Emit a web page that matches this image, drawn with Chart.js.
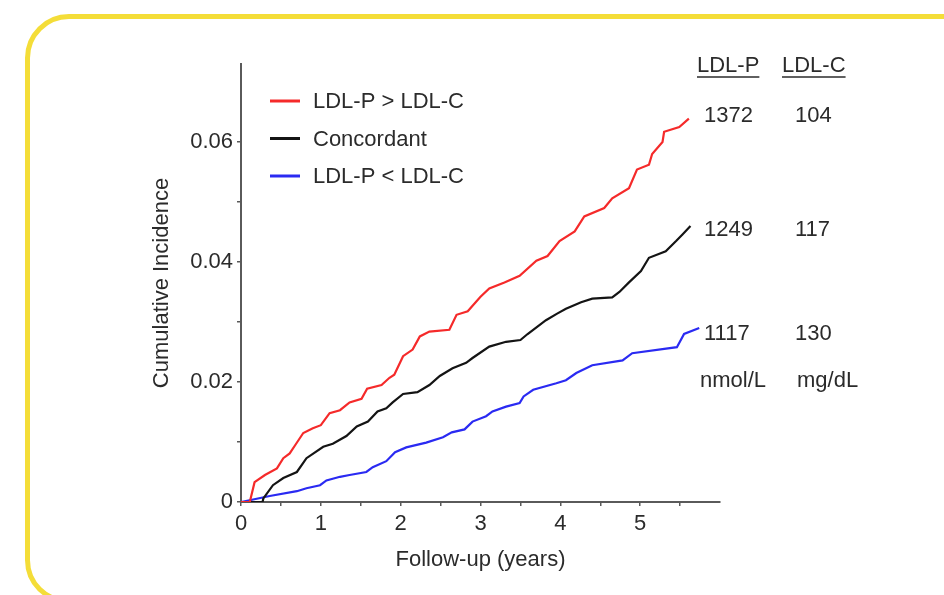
<!DOCTYPE html>
<html>
<head>
<meta charset="utf-8">
<script src="https://cdn.jsdelivr.net/npm/chart.js@4.4.1/dist/chart.umd.min.js"></script>
<style>
  html, body { margin:0; padding:0; background:#ffffff; width:944px; height:595px; overflow:hidden; }
  #frame { position:absolute; left:25px; top:14px; width:970px; height:590px; box-sizing:border-box;
           border:5px solid #F4DD38; border-radius:44px; }
  #c { position:absolute; left:0; top:0; }
</style>
</head>
<body>
<div id="frame"></div>
<canvas id="c" width="944" height="595"></canvas>
<script>
// ---- data ----
const seriesLabels = ['LDL-P > LDL-C', 'Concordant', 'LDL-P < LDL-C'];
const seriesColors = ['#F52A2A', '#141414', '#2A2AF2'];

const redTimes = [0,0.11,0.17,0.3,0.45,0.53,0.61,0.68,0.78,0.9,1.0,1.11,1.24,1.36,1.51,1.58,1.76,1.86,1.92,2.03,2.15,2.24,2.36,2.61,2.7,2.84,2.92,3.0,3.11,3.3,3.49,3.7,3.84,3.99,4.18,4.3,4.55,4.65,4.86,4.96,5.11,5.15,5.28,5.3,5.49,5.61];
const redVals  = [0,0,0.0033,0.0045,0.0056,0.0073,0.0081,0.0095,0.0115,0.0123,0.0128,0.0148,0.0153,0.0166,0.0172,0.0189,0.0195,0.0207,0.0212,0.0243,0.0254,0.0276,0.0284,0.0287,0.0312,0.0318,0.0330,0.0342,0.0356,0.0366,0.0377,0.0402,0.0410,0.0435,0.0451,0.0476,0.0490,0.0506,0.0523,0.0554,0.0562,0.0580,0.0600,0.0617,0.0625,0.0639];

const blackTimes = [0,0.27,0.28,0.4,0.53,0.7,0.82,1.03,1.15,1.32,1.45,1.59,1.71,1.82,1.9,2.03,2.21,2.36,2.49,2.65,2.82,2.9,3.11,3.32,3.5,3.59,3.82,3.96,4.07,4.26,4.4,4.65,4.74,4.86,5.01,5.11,5.32,5.45,5.53,5.63];
const blackVals  = [0,0,0.0006,0.0028,0.0040,0.0050,0.0073,0.0092,0.0097,0.0110,0.0126,0.0134,0.0151,0.0156,0.0166,0.0180,0.0183,0.0195,0.0210,0.0223,0.0232,0.0240,0.0259,0.0267,0.0270,0.0280,0.0303,0.0314,0.0322,0.0333,0.0339,0.0341,0.0350,0.0366,0.0385,0.0407,0.0418,0.0435,0.0446,0.0460];

const blueTimes = [0,0.36,0.7,0.82,0.99,1.07,1.24,1.36,1.57,1.65,1.82,1.93,2.07,2.32,2.53,2.64,2.8,2.9,3.07,3.15,3.32,3.49,3.54,3.66,3.95,4.07,4.2,4.4,4.78,4.9,5.46,5.55,5.74];
const blueVals  = [0,0.0010,0.0018,0.0023,0.0028,0.0036,0.0042,0.0045,0.0050,0.0058,0.0068,0.0083,0.0091,0.0099,0.0108,0.0116,0.0121,0.0134,0.0143,0.0151,0.0159,0.0165,0.0176,0.0187,0.0198,0.0203,0.0215,0.0228,0.0236,0.0248,0.0258,0.0280,0.0290];

const ldlPValues = ['1372', '1249', '1117'];
const ldlCValues = ['104', '117', '130'];
const columnHeaders = ['LDL-P', 'LDL-C'];
const columnUnits = ['nmol/L', 'mg/dL'];

const yMajorLabels = ['0', '0.02', '0.04', '0.06'];
const xMajorLabels = ['0', '1', '2', '3', '4', '5'];
const xTitle = 'Follow-up (years)';
const yTitle = 'Cumulative Incidence';

// ---- build ----
const FONT = "'Liberation Sans', Arial, sans-serif";
const FS = 22;
const TEXT = '#2b2b2b';
const AXIS = '#5a5a5a';

function pts(t, v) { return t.map((x, i) => ({x: x, y: v[i]})); }
const allTimes = [redTimes, blackTimes, blueTimes];
const allVals = [redVals, blackVals, blueVals];

const datasets = seriesLabels.map((lab, i) => ({
  label: lab,
  data: pts(allTimes[i], allVals[i]),
  borderColor: seriesColors[i],
  borderWidth: 2.2,
  pointRadius: 0,
  tension: 0,
  fill: false
}));

const overlay = {
  id: 'overlay',
  afterDraw(chart) {
    const ctx = chart.ctx;
    ctx.save();
    ctx.font = FS + 'px ' + FONT;
    ctx.textBaseline = 'middle';
    // legend
    chart.data.datasets.forEach((ds, i) => {
      const y = 101 + i * 37.5;
      ctx.strokeStyle = ds.borderColor;
      ctx.lineWidth = 3;
      ctx.beginPath(); ctx.moveTo(270, y); ctx.lineTo(300, y); ctx.stroke();
      ctx.fillStyle = TEXT;
      ctx.textAlign = 'left';
      ctx.fillText(ds.label, 313, y + 1);
    });
    // right-hand table
    const colX = [697, 782];
    const valX = [704, 795];
    ctx.fillStyle = TEXT;
    columnHeaders.forEach((h, j) => {
      ctx.fillText(h, colX[j], 66);
      const w = ctx.measureText(h).width;
      ctx.strokeStyle = TEXT; ctx.lineWidth = 1.5;
      ctx.beginPath(); ctx.moveTo(colX[j], 77); ctx.lineTo(colX[j] + w, 77); ctx.stroke();
    });
    const rowY = [116, 230, 334];
    ldlPValues.forEach((v, i) => {
      ctx.fillText(v, valX[0], rowY[i]);
      ctx.fillText(ldlCValues[i], valX[1], rowY[i]);
    });
    ctx.fillText(columnUnits[0], 700, 381);
    ctx.fillText(columnUnits[1], 797, 381);
    ctx.restore();
  }
};

new Chart(document.getElementById('c'), {
  type: 'line',
  data: { datasets: datasets },
  options: {
    responsive: false,
    animation: false,
    devicePixelRatio: 1,
    layout: { padding: { top: 64, right: 224, left: 0, bottom: 0 } },
    plugins: { legend: { display: false }, tooltip: { enabled: false } },
    font: { family: FONT },
    scales: {
      x: {
        type: 'linear', min: 0, max: 6,
        afterFit(s) { s.height = 93; },
        afterBuildTicks(s) { s.ticks = s.ticks.filter(t => t.value < 5.99); },
        border: { display: true, color: AXIS, width: 2 },
        grid: { display: true, drawOnChartArea: false, drawTicks: true, tickLength: 4, color: AXIS, lineWidth: 1.5 },
        ticks: {
          stepSize: 0.5, padding: 5, color: TEXT, maxRotation: 0, autoSkip: false,
          font: { family: FONT, size: FS },
          callback(v) { const k = Math.round(v); return Math.abs(v - k) < 1e-6 && k < xMajorLabels.length ? xMajorLabels[k] : ''; }
        },
        title: { display: true, text: xTitle, color: TEXT, font: { family: FONT, size: FS }, padding: { top: 0, bottom: 22 } }
      },
      y: {
        type: 'linear', min: 0, max: 0.073,
        afterFit(s) { s.width = 241; },
        afterBuildTicks(s) { s.ticks = s.ticks.filter(t => t.value < 0.0705); },
        border: { display: true, color: AXIS, width: 2 },
        grid: { display: true, drawOnChartArea: false, drawTicks: true, tickLength: 4, color: AXIS, lineWidth: 1.5 },
        ticks: {
          stepSize: 0.01, padding: 4, color: TEXT, autoSkip: false,
          font: { family: FONT, size: FS },
          callback(v) { const k = Math.round(v / 0.02); return Math.abs(v / 0.02 - k) < 1e-6 && k < yMajorLabels.length ? yMajorLabels[k] : ''; }
        },
        title: { display: true, text: yTitle, color: TEXT, font: { family: FONT, size: FS }, padding: { top: 149, bottom: 0 } }
      }
    }
  },
  plugins: [overlay]
});
</script>
</body>
</html>
